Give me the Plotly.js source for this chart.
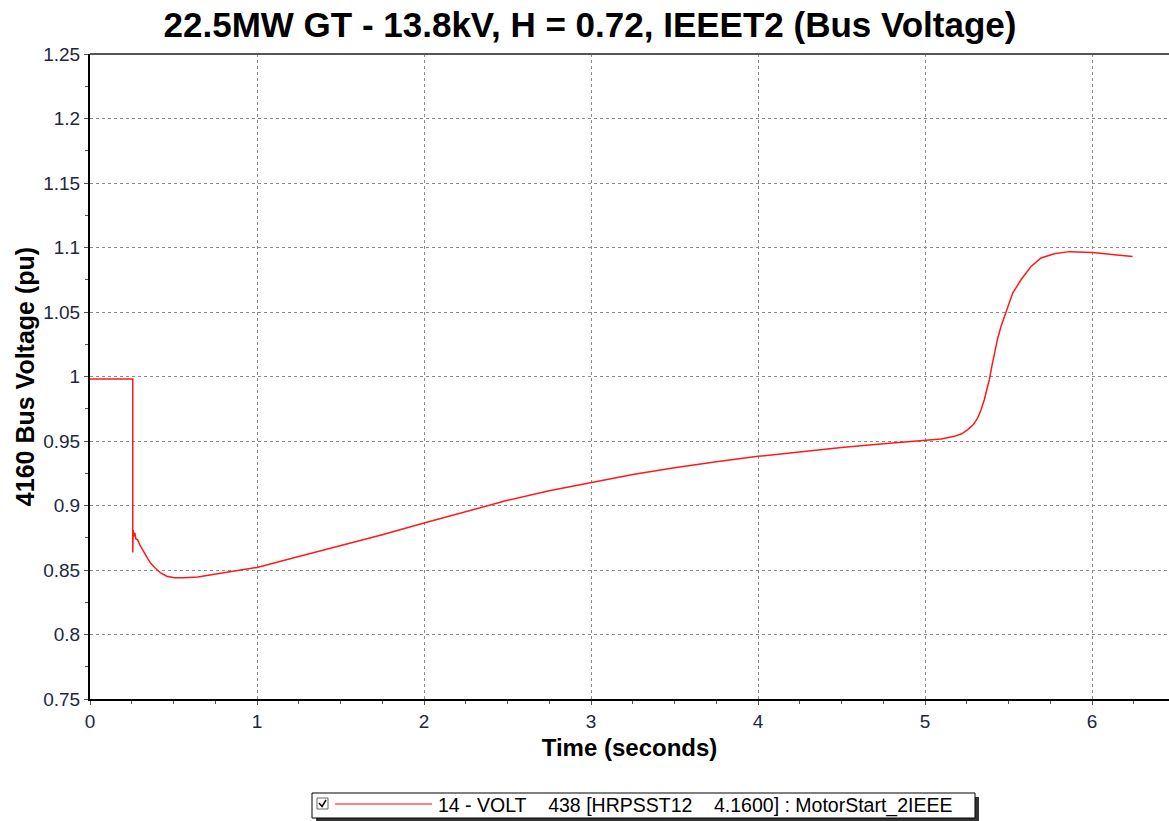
<!DOCTYPE html>
<html>
<head>
<meta charset="utf-8">
<script src="https://cdn.plot.ly/plotly-3.0.1.min.js"></script>
<style>html,body{margin:0;padding:0;background:#fff;}#chart{width:1169px;height:821px;}</style>
</head>
<body>
<div id="chart"></div>
<script>
const timeSec = [0, 0.256, 0.256, 0.258, 0.262, 0.268, 0.275, 0.285, 0.30, 0.312, 0.325, 0.345, 0.365, 0.39, 0.425, 0.46, 0.505, 0.56, 0.645, 0.75, 0.844, 1.0, 1.25, 1.5, 1.75, 2.0, 2.25, 2.5, 2.75, 3.0, 3.25, 3.5, 3.75, 4.0, 4.25, 4.5, 4.75, 5.0, 5.096, 5.176, 5.22, 5.256, 5.29, 5.315, 5.335, 5.355, 5.37, 5.385, 5.4, 5.415, 5.435, 5.455, 5.485, 5.525, 5.575, 5.635, 5.695, 5.774, 5.864, 5.95, 6.004, 6.134, 6.243];
const busVoltage = [0.998, 0.998, 0.8636, 0.881, 0.876, 0.879, 0.874, 0.8735, 0.869, 0.866, 0.863, 0.859, 0.855, 0.8515, 0.8475, 0.8452, 0.8440, 0.8440, 0.8446, 0.8468, 0.849, 0.852, 0.8605, 0.8688, 0.8774, 0.8864, 0.8955, 0.9040, 0.9115, 0.9180, 0.9240, 0.9293, 0.9340, 0.9381, 0.9418, 0.9450, 0.9478, 0.9503, 0.9516, 0.9536, 0.9556, 0.9588, 0.9628, 0.9678, 0.974, 0.982, 0.9895, 0.9975, 1.0078, 1.0182, 1.0295, 1.0388, 1.0505, 1.0647, 1.075, 1.0853, 1.0919, 1.0952, 1.0968, 1.0966, 1.0962, 1.0944, 1.0931];
const seriesName = "14 - VOLT\u00a0\u00a0\u00a0\u00a0438 [HRPSST12\u00a0\u00a0\u00a0\u00a04.1600] : MotorStart_2IEEE";
const chartTitle = "22.5MW GT - 13.8kV, H = 0.72, IEEET2 (Bus Voltage)";
const xTitle = "Time (seconds)";
const yTitle = "4160 Bus Voltage (pu)";
const xTickVals = [0, 1, 2, 3, 4, 5, 6];
const yTickVals = [0.75, 0.8, 0.85, 0.9, 0.95, 1, 1.05, 1.1, 1.15, 1.2, 1.25];
const yTickText = ["0.75", "0.8", "0.85", "0.9", "0.95", "1", "1.05", "1.1", "1.15", "1.2", "1.25"];

// plot area in pixels: left 90, right 1169, top 54, bottom 699
const L = 90, R = 1169, T = 54, B = 699;
const px = v => (v - L) / (R - L);
const py = v => (B - v) / (B - T);

const tickColor = '#1e2742';
const FONT = 'Liberation Sans, Arial, sans-serif';
const trace = {
  x: timeSec, y: busVoltage, type: 'scatter', mode: 'lines',
  name: seriesName, line: {color: 'rgb(255,25,25)', width: 1.5}, showlegend: false
};

const layout = {
  width: 1169, height: 821,
  margin: {l: L, r: 1169 - R, t: T, b: 821 - B},
  paper_bgcolor: '#fff', plot_bgcolor: '#fff',
  font: {family: FONT, color: tickColor},
  title: {text: '<b>' + chartTitle + '</b>', font: {size: 35, color: '#000', family: FONT},
          x: px(590), xref: 'paper', xanchor: 'center', y: 1 - 25 / 821, yref: 'container', yanchor: 'middle'},
  xaxis: {
    range: [0, (R - L) / 167], tickvals: xTickVals, ticktext: xTickVals.map(String),
    showgrid: true, gridcolor: '#8c8c8c', griddash: '3px,3px', gridwidth: 1,
    zeroline: false, showline: true, linecolor: '#000', linewidth: 2,
    ticks: 'outside', ticklen: 4, tickcolor: '#555', tickfont: {size: 19, color: tickColor},
    minor: {dtick: 0.25, tick0: 0, ticks: 'outside', ticklen: 3, tickcolor: '#555', showgrid: false},
    title: {text: '<b>' + xTitle + '</b>', font: {size: 24, color: '#000'}, standoff: 8}
  },
  yaxis: {
    range: [0.75, 1.25], tickvals: yTickVals, ticktext: yTickText,
    showgrid: true, gridcolor: '#8c8c8c', griddash: '3px,3px', gridwidth: 1,
    zeroline: false, showline: true, linecolor: '#000', linewidth: 2,
    ticks: 'outside', ticklen: 4, tickcolor: '#555', tickfont: {size: 19, color: tickColor},
    minor: {dtick: 0.025, tick0: 0.75, ticks: 'outside', ticklen: 3, tickcolor: '#555', showgrid: false},
    title: {text: '<b>' + yTitle + '</b>', font: {size: 25, color: '#000'}, standoff: 1}
  },
  shapes: [
    {type: 'line', xref: 'paper', yref: 'paper', x0: 0, x1: 1, y0: 1, y1: 1, line: {color: '#555', width: 2}},
    // legend shadow
    {type: 'rect', xref: 'paper', yref: 'paper', x0: px(316), x1: px(979), y0: py(797), y1: py(822), fillcolor: '#333', line: {width: 0}},
    // legend box
    {type: 'rect', xref: 'paper', yref: 'paper', x0: px(312), x1: px(975), y0: py(793), y1: py(818), fillcolor: '#fff', line: {color: '#000', width: 1}},
    // checkbox
    {type: 'rect', xref: 'paper', yref: 'paper', x0: px(317), x1: px(328), y0: py(798), y1: py(809), fillcolor: '#fff', line: {color: '#666', width: 1}},
    {type: 'path', xref: 'paper', yref: 'paper',
     path: 'M ' + px(319) + ' ' + py(803) + ' L ' + px(322) + ' ' + py(806.5) + ' L ' + px(326) + ' ' + py(800),
     line: {color: '#000', width: 1.5}},
    // legend line sample
    {type: 'line', xref: 'paper', yref: 'paper', x0: px(335), x1: px(432), y0: py(804), y1: py(804), line: {color: 'rgb(255,90,90)', width: 1.5}}
  ],
  annotations: [
    {xref: 'paper', yref: 'paper', x: px(436), y: py(805), xanchor: 'left', yanchor: 'middle',
     text: seriesName, showarrow: false, font: {size: 19.5, color: '#000', family: FONT}}
  ]
};

Plotly.newPlot('chart', [trace], layout, {displayModeBar: false, staticPlot: true});
</script>
</body>
</html>
